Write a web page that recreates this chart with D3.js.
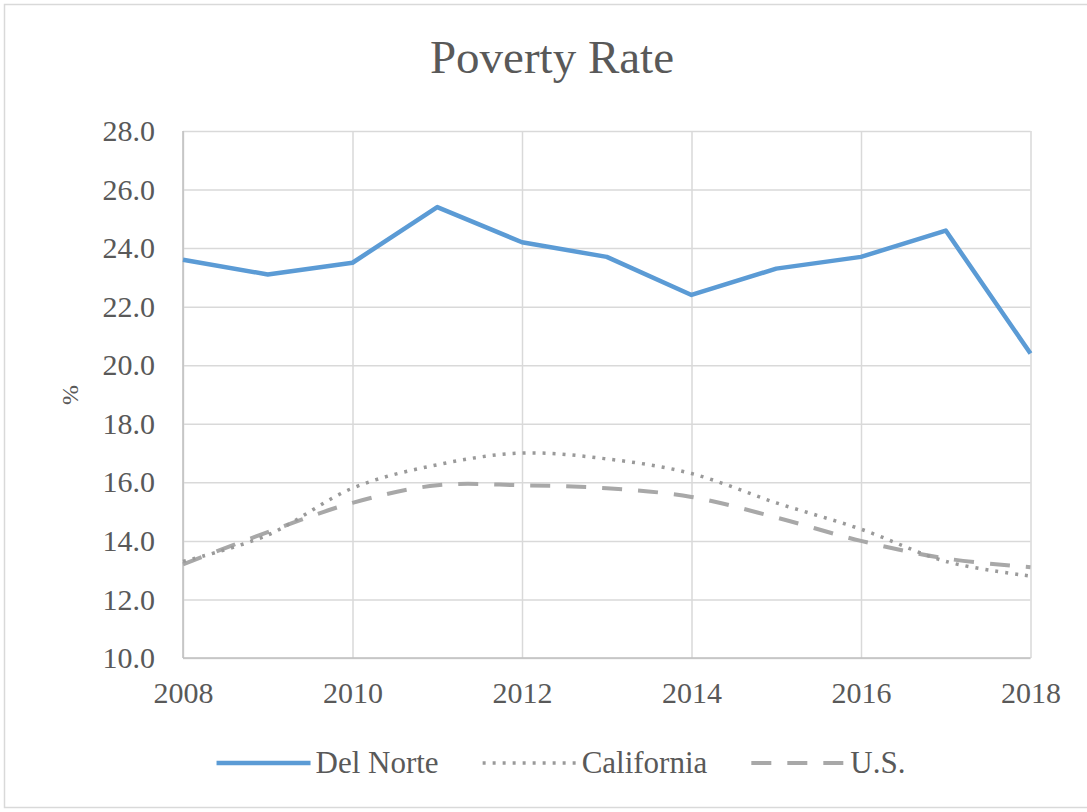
<!DOCTYPE html>
<html>
<head>
<meta charset="utf-8">
<script src="https://cdn.jsdelivr.net/npm/d3@7"></script>
<style>
  body { margin: 0; background: #fff; }
  text { font-family: "Liberation Serif", "DejaVu Serif", serif; fill: #595959; }
</style>
</head>
<body>
<div id="chart"></div>
<script>
// data
var years = [2008, 2009, 2010, 2011, 2012, 2013, 2014, 2015, 2016, 2017, 2018];
var delNorte = [23.6, 23.1, 23.5, 25.4, 24.2, 23.7, 22.4, 23.3, 23.7, 24.6, 20.4];
var california = [13.3, 14.2, 15.8, 16.6, 17.0, 16.8, 16.3, 15.3, 14.4, 13.3, 12.8];
var us = [13.2, 14.3, 15.3, 15.9, 15.9, 15.8, 15.5, 14.8, 14.0, 13.4, 13.1];
var yTicks = [10, 12, 14, 16, 18, 20, 22, 24, 26, 28];
var xTicks = [2008, 2010, 2012, 2014, 2016, 2018];
var seriesNames = ["Del Norte", "California", "U.S."];

var width = 1087, height = 812;
var plot = {left: 183, right: 1030.5, top: 131, bottom: 658};

var svg = d3.select("#chart").append("svg")
  .attr("width", width)
  .attr("height", height);

svg.append("rect")
  .attr("x", 4.5).attr("y", 4.5)
  .attr("width", 1100).attr("height", 803)
  .attr("fill", "#fff")
  .attr("stroke", "#d9d9d9")
  .attr("stroke-width", 1.5);

var x = d3.scaleLinear().domain([2008, 2018]).range([plot.left, plot.right]);
var y = d3.scaleLinear().domain([10, 28]).range([plot.bottom, plot.top]);

svg.append("text")
  .attr("x", 552).attr("y", 73)
  .attr("text-anchor", "middle")
  .style("font-size", "47px")
  .text("Poverty Rate");

// grid
var yGrid = svg.append("g")
  .attr("transform", "translate(" + plot.left + ",0)")
  .call(d3.axisLeft(y).tickValues(yTicks).tickSize(-(plot.right - plot.left)).tickFormat(""));
var xGrid = svg.append("g")
  .attr("transform", "translate(0," + plot.bottom + ")")
  .call(d3.axisBottom(x).tickValues(xTicks).tickSize(-(plot.bottom - plot.top)).tickFormat(""));
svg.selectAll(".domain").remove();
svg.selectAll(".tick line").attr("stroke", "#d9d9d9").attr("stroke-width", 1.5);

// axis lines
svg.append("line")
  .attr("x1", plot.left).attr("x2", plot.left)
  .attr("y1", plot.top).attr("y2", plot.bottom)
  .attr("stroke", "#bfbfbf").attr("stroke-width", 1.5);
svg.append("line")
  .attr("x1", plot.left).attr("x2", plot.right)
  .attr("y1", plot.bottom).attr("y2", plot.bottom)
  .attr("stroke", "#bfbfbf").attr("stroke-width", 1.5);

// tick labels
var yAxis = svg.append("g")
  .attr("transform", "translate(" + plot.left + ",0)")
  .call(d3.axisLeft(y).tickValues(yTicks).tickSize(0).tickPadding(28).tickFormat(d3.format(".1f")));
var xAxis = svg.append("g")
  .attr("transform", "translate(0," + plot.bottom + ")")
  .call(d3.axisBottom(x).tickValues(xTicks).tickSize(0).tickFormat(d3.format("d")));
xAxis.selectAll("text").attr("y", 45).attr("dy", 0);
[yAxis, xAxis].forEach(function(a) {
  a.select(".domain").remove();
  a.selectAll("text")
    .attr("fill", "#595959")
    .style("font-family", '"Liberation Serif", "DejaVu Serif", serif')
    .style("font-size", "30px");
});

svg.append("text")
  .attr("transform", "translate(78,395) rotate(-90)")
  .attr("text-anchor", "middle")
  .style("font-size", "24px")
  .text("%");

// series
var styles = [
  {color: "#5b9bd5", width: 4.5, dash: null, curve: d3.curveLinear},
  {color: "#9a9a9a", width: 3.5, dash: "3,7", curve: d3.curveCardinal.tension(0)},
  {color: "#a8a8a8", width: 4, dash: "20,16", curve: d3.curveCardinal.tension(0)}
];
var seriesValues = [delNorte, california, us];

// drawn so Del Norte sits on top
[2, 1, 0].forEach(function(i) {
  var line = d3.line()
    .x(function(d, j) { return x(years[j]); })
    .y(function(d) { return y(d); })
    .curve(styles[i].curve);
  svg.append("path")
    .datum(seriesValues[i])
    .attr("d", line)
    .attr("fill", "none")
    .attr("stroke", styles[i].color)
    .attr("stroke-width", styles[i].width)
    .attr("stroke-dasharray", styles[i].dash)
    .attr("stroke-linejoin", "round");
});

// legend
var legend = svg.append("g");
var lx = 0;
seriesNames.forEach(function(name, i) {
  var item = legend.append("g").attr("transform", "translate(" + lx + ",0)");
  item.append("line")
    .attr("x1", 0).attr("x2", 94)
    .attr("y1", 0).attr("y2", 0)
    .attr("stroke", styles[i].color)
    .attr("stroke-width", styles[i].width)
    .attr("stroke-dasharray", styles[i].dash);
  var t = item.append("text")
    .attr("x", 99).attr("y", 10)
    .style("font-size", "31px")
    .text(name);
  lx += 99 + t.node().getComputedTextLength() + 44;
});
var legendWidth = lx - 44;
legend.attr("transform", "translate(" + (561 - legendWidth / 2) + ",763)");
</script>
</body>
</html>
